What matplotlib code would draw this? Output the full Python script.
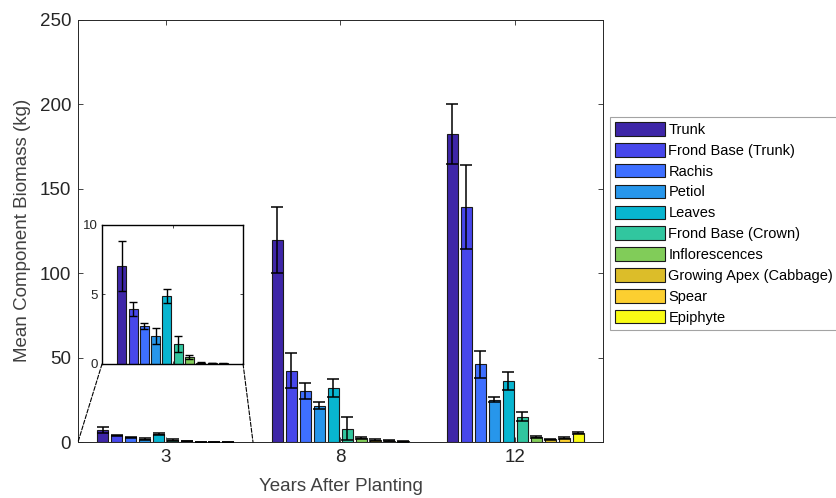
import matplotlib.pyplot as plt
from matplotlib.patches import ConnectionPatch
import numpy as np

plt.rcParams['font.family'] = ['Liberation Sans', 'DejaVu Sans']

years = ['3', '8', '12']
components = ['Trunk', 'Frond Base (Trunk)', 'Rachis', 'Petiol', 'Leaves',
              'Frond Base (Crown)', 'Inflorescences', 'Growing Apex (Cabbage)',
              'Spear', 'Epiphyte']

# mean biomass (kg) per component, one list per year
mean_3 = [7.07, 3.93, 2.73, 2.01, 4.89, 1.44, 0.50, 0.08, 0.06, 0.05]
mean_8 = [119.5, 42.2, 30.2, 21.5, 32.1, 7.9, 2.2, 1.2, 0.8, 0.4]
mean_12 = [182.4, 139.1, 46.0, 24.9, 36.1, 15.0, 2.8, 1.6, 2.5, 5.5]

err_3 = [1.8, 0.5, 0.22, 0.58, 0.5, 0.6, 0.15, 0.03, 0.02, 0.02]
err_8 = [19.7, 10.3, 4.7, 2.0, 5.4, 6.7, 0.6, 0.4, 0.3, 0.2]
err_12 = [17.8, 25.0, 7.9, 1.5, 5.3, 2.8, 0.5, 0.4, 0.6, 0.6]

# parula(10)
colors = ['#3e26a8', '#4747eb', '#3e6fff', '#2796eb', '#08b5d0',
          '#31c69f', '#81cc59', '#dcbd29', '#fccf30', '#f9fb15']

means = np.array([mean_3, mean_8, mean_12])
errs = np.array([err_3, err_8, err_12])
x = np.arange(1, 4)
n = len(components)
slot = 0.08
w = 0.8 * slot
ink = '#262626'

fig = plt.figure(figsize=(8.37, 4.98), dpi=100)
ax = fig.add_axes([0.0932, 0.1124, 0.6272, 0.8484])


def draw(a, cap, lw_err):
    for i in range(n):
        pos = x + (i - (n - 1) / 2) * slot
        a.bar(pos, means[:, i], w, color=colors[i], edgecolor='#1a1a1a',
              linewidth=0.8, label=components[i], zorder=2)
        a.errorbar(pos, means[:, i], yerr=errs[:, i], fmt='none', ecolor='black',
                   elinewidth=lw_err, capsize=cap, capthick=lw_err, zorder=3)


draw(ax, 4.3, 1.1)
ax.set_xlim(0.5, 3.5)
ax.set_ylim(0, 250)
ax.set_xticks(x)
ax.set_xticklabels(years)
ax.set_yticks(range(0, 251, 50))
ax.tick_params(direction='in', length=3.5, width=0.6, labelsize=13.5,
               colors=ink, top=True, right=True, pad=5)
for s in ax.spines.values():
    s.set_color(ink)
    s.set_linewidth(0.7)
ax.set_ylabel('Mean Component Biomass (kg)', fontsize=13.5, color='#404040', labelpad=6)
ax.set_xlabel('Years After Planting', fontsize=13.5, color='#404040', labelpad=9)

leg = ax.legend(loc='upper left', bbox_to_anchor=(0.7288, 0.765),
                bbox_transform=fig.transFigure, fontsize=10.5, frameon=True,
                fancybox=False, edgecolor='#8c8c8c', borderaxespad=0,
                handlelength=3.4, handleheight=1.05, handletextpad=0.25,
                labelspacing=0.42, borderpad=0.35)
leg.get_frame().set_linewidth(0.8)

# inset zoom on the year-3 group
ax_in = fig.add_axes([0.1219, 0.2691, 0.1685, 0.2791])
draw(ax_in, 3.0, 1.0)
ax_in.set_xlim(0.5, 1.5)
ax_in.set_ylim(0, 10)
ax_in.set_xticks([1])
ax_in.set_xticklabels([])
ax_in.set_yticks([0, 5, 10])
ax_in.tick_params(direction='in', length=2.5, width=0.6, labelsize=9.5,
                  colors=ink, top=True, right=True, pad=3)
for s in ax_in.spines.values():
    s.set_color('black')
    s.set_linewidth(1.0)

for xa, xb in [(0, 0.5), (1, 1.5)]:
    con = ConnectionPatch(xyA=(xa, 0), coordsA=ax_in.transAxes,
                          xyB=(xb, 0), coordsB=ax.transData,
                          linestyle='--', color='black', linewidth=0.8)
    fig.add_artist(con)

fig.savefig('out.png', dpi=100)
